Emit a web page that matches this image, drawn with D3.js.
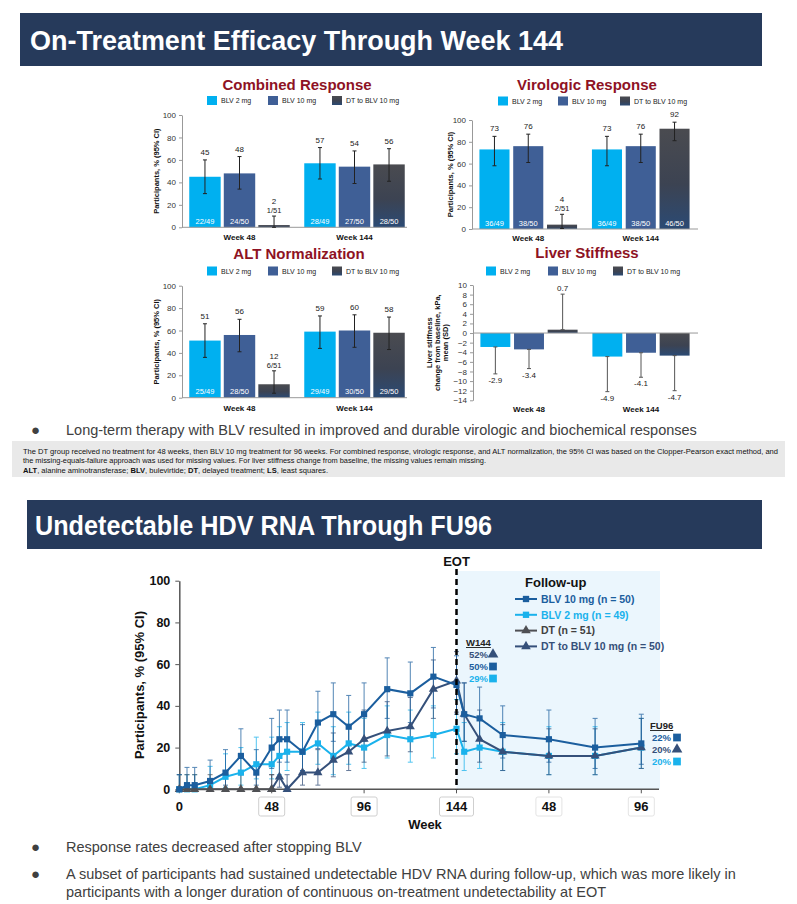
<!DOCTYPE html>
<meta charset="utf-8">
<style>
  body { margin: 0; background: #fff; }
  svg { display: block; font-family: "Liberation Sans", Arial, sans-serif; }
</style>
<svg width="797" height="904"></svg>
<script src="https://cdn.jsdelivr.net/npm/d3@7"></script>
<script>

// ---------- bar panels (order: Week 48 arms, then Week 144 arms)
var arms = ["BLV 2 mg", "BLV 10 mg", "DT to BLV 10 mg"]
var visits = ["Week 48", "Week 144"]

var combinedPct = [45, 48, 2, 57, 54, 56]
var combinedLo = [30, 34, 0, 43, 39, 41]
var combinedHi = [60, 63, 10, 71, 68, 70]
var combinedN = ["22/49", "24/50", "1/51", "28/49", "27/50", "28/50"]

var viroPct = [73, 76, 4, 73, 76, 92]
var viroLo = [58, 61, 0.5, 58, 61, 81]
var viroHi = [85, 87, 13.5, 85, 87, 98]
var viroN = ["36/49", "38/50", "2/51", "36/49", "38/50", "46/50"]

var altPct = [51, 56, 12, 59, 60, 58]
var altLo = [36, 41, 4, 44, 45, 43]
var altHi = [66, 70, 24, 73, 74, 72]
var altN = ["25/49", "28/50", "6/51", "29/49", "30/50", "29/50"]

var lsMean = [-2.9, -3.4, 0.7, -4.9, -4.1, -4.7]
var lsSD = [5.6, 4.0, 7.4, 7.3, 5.1, 7.3]

// ---------- undetectable HDV RNA (week 144+ = follow-up)
var weeks = [0, 4, 8, 16, 24, 32, 40, 48, 52, 56, 64, 72, 80, 88, 96, 108, 120, 132, 144, 148, 156, 168, 192, 216, 240]
var blv10 = [0, 2, 2, 4, 8, 16, 8, 20, 24, 24, 18, 32, 36, 30, 36, 48, 46, 54, 50, 36, 34, 26, 24, 20, 22]
var blv10Lo = [0, 0, 0, 0.5, 2, 7, 2, 10, 13, 13, 9, 19.5, 23, 18, 23, 34, 32, 39, 36, 23, 21, 15, 13, 10, 12]
var blv10Hi = [7, 10.5, 10.5, 14, 19, 29, 19, 34, 38, 38, 31, 47, 51, 45, 51, 63, 61, 68, 64, 51, 49, 40, 38, 34, 36]
var blv2 = [0, 0, 0, 2, 6, 8, 12, 12, 16, 18, 18, 22, 16, 22, 20, 26, 24, 26, 29, 18, 20, 18, 16, 16, 20]
var blv2Lo = [0, 0, 0, 0, 1, 2, 5, 5, 7, 9, 9, 12, 7, 12, 10, 15, 13, 15, 17, 9, 10, 9, 7, 7, 10]
var blv2Hi = [7, 7, 7, 11, 17, 20, 25, 25, 30, 32, 32, 37, 30, 37, 34, 40, 38, 40, 43, 32, 34, 32, 30, 30, 34]
var dtWeeks = [0, 4, 8, 16, 24, 32, 40, 48]
var dt = [0, 0, 0, 0, 0, 0, 0, 0]
var dtLo = [0, 0, 0, 0, 0, 0, 0, 0]
var dtHi = [7, 7, 7, 7, 7, 7, 7, 7]
var dtBlvWeeks = [48, 52, 56, 64, 72, 80, 88, 96, 108, 120, 132, 144, 148, 156, 168, 192, 216, 240]
var dtBlv = [0, 6, 0, 8, 8, 14, 18, 24, 28, 30, 48, 52, 36, 24, 18, 16, 16, 20]
var dtBlvLo = [0, 1, 0, 2, 2, 6, 9, 13, 16, 18, 34, 37, 23, 13, 9, 7, 7, 10]
var dtBlvHi = [7, 17, 7, 19, 19, 27, 31, 38, 42, 44, 62, 66, 51, 38, 31, 29, 29, 34]

var weekTicks = [0, 48, 96, 144, 192, 240]
var weekTickLabels = ["0", "48", "96", "144", "48", "96"]
var seriesNames = ["BLV 10 mg (n = 50)", "BLV 2 mg (n = 49)", "DT (n = 51)", "DT to BLV 10 mg (n = 50)"]

var svg = d3.select('svg')

var armColor = ["#00b0f0", "#3f5f96", "url(#dtGrad)"]
var red = "#8e1224"
var c10 = "#1b5e9e", c2 = "#1ab2ec", cDT = "#4f5054", cNavy = "#35507a"

var grad = svg.append('defs').append('linearGradient').attr('id', 'dtGrad')
    .attr('x1', 0).attr('y1', 0).attr('x2', 0).attr('y2', 1)
grad.append('stop').attr('offset', '0%').attr('stop-color', '#4a4b50')
grad.append('stop').attr('offset', '55%').attr('stop-color', '#3c4352')
grad.append('stop').attr('offset', '100%').attr('stop-color', '#2b4a74')

// title bars
function titleBar(x, y, w, h, text, tx, ty, len) {
    svg.append('rect').attr('x', x).attr('y', y).attr('width', w).attr('height', h).attr('fill', '#263a5b')
    svg.append('text').attr('x', tx).attr('y', ty).attr('fill', '#fff')
        .attr('font-size', 27).attr('font-weight', 'bold')
        .attr('textLength', len).attr('lengthAdjust', 'spacingAndGlyphs')
        .text(text)
}
titleBar(20, 13, 742, 53, "On-Treatment Efficacy Through Week 144", 30, 50, 533)
titleBar(27, 500, 735, 49, "Undetectable HDV RNA Through FU96", 35, 535, 457)

function barPanel(p) {
    var g = svg.append('g')
    g.append('text').attr('x', p.cx).attr('y', p.titleY).attr('text-anchor', 'middle')
        .attr('fill', red).attr('font-size', 15).attr('font-weight', 'bold').text(p.title)

    arms.forEach(function (a, i) {
        g.append('rect').attr('x', p.legendX[i]).attr('y', p.legendY - 4).attr('width', 10).attr('height', 9)
            .attr('fill', armColor[i])
        g.append('text').attr('x', p.legendX[i] + 14).attr('y', p.legendY + 3).attr('font-size', 7)
            .attr('fill', '#222').text(a)
    })

    var x0 = d3.scaleBand().domain(visits).range([p.left, p.right])
    var x1 = d3.scaleBand().domain(arms).range([0, x0.bandwidth()]).paddingInner(p.pi).paddingOuter(p.po)
    var y = d3.scaleLinear().domain(p.yDomain).range([p.bottom, p.top])

    var rows = p.values.map(function (v, i) {
        var lo, hi
        if (p.sd) {
            lo = v < 0 ? v - p.sd[i] : v
            hi = v < 0 ? v : v + p.sd[i]
        } else { lo = p.lo[i]; hi = p.hi[i] }
        return { visit: visits[Math.floor(i / 3)], arm: arms[i % 3], ai: i % 3, v: v, lo: lo, hi: hi, n: p.n ? p.n[i] : null }
    })
    function cx(d) { return x0(d.visit) + x1(d.arm) + x1.bandwidth() / 2 }

    // axis
    var ax = g.append('g').attr('transform', 'translate(' + p.left + ',0)')
        .call(d3.axisLeft(y).tickValues(p.ticks).tickSize(3).tickSizeOuter(0).tickPadding(3))
    ax.select('.domain').attr('stroke', '#999')
    ax.selectAll('.tick line').attr('stroke', '#999')
    ax.selectAll('.tick text').attr('font-size', 8).attr('fill', '#333').attr('font-family', '"Liberation Sans", Arial, sans-serif')

    g.selectAll(null).data(rows).enter().append('rect')
        .attr('x', function (d) { return x0(d.visit) + x1(d.arm) })
        .attr('width', x1.bandwidth())
        .attr('y', function (d) { return y(Math.max(0, d.v)) })
        .attr('height', function (d) { return Math.abs(y(d.v) - y(0)) })
        .attr('fill', function (d) { return armColor[d.ai] })

    g.append('line').attr('x1', p.left).attr('x2', p.axisEnd).attr('y1', y(0)).attr('y2', y(0))
        .attr('stroke', '#999')

    // error bars
    var eb = g.selectAll(null).data(rows).enter().append('g').attr('stroke', p.sd ? '#555' : '#222').attr('stroke-width', 1)
    eb.append('line').attr('x1', cx).attr('x2', cx).attr('y1', function (d) { return y(d.lo) }).attr('y2', function (d) { return y(d.hi) })
    eb.append('line').attr('x1', function (d) { return cx(d) - 2 }).attr('x2', function (d) { return cx(d) + 2 })
        .attr('y1', function (d) { return y(d.hi) }).attr('y2', function (d) { return y(d.hi) })
    eb.append('line').attr('x1', function (d) { return cx(d) - 2 }).attr('x2', function (d) { return cx(d) + 2 })
        .attr('y1', function (d) { return y(d.lo) }).attr('y2', function (d) { return y(d.lo) })

    // labels
    rows.forEach(function (d) {
        if (p.sd) {
            var ly0 = d.v < 0 ? y(d.lo) + 9 : y(d.hi) - 3
            g.append('text').attr('x', cx(d)).attr('y', ly0).attr('text-anchor', 'middle')
                .attr('font-size', 8).attr('fill', '#222').text(d.v.toFixed(1))
        } else if (d.v < 20) {
            g.append('text').attr('x', cx(d)).attr('y', y(d.hi) - 12).attr('text-anchor', 'middle')
                .attr('font-size', 8).attr('fill', '#222').text(d.v)
            g.append('text').attr('x', cx(d)).attr('y', y(d.hi) - 3).attr('text-anchor', 'middle')
                .attr('font-size', 7.5).attr('fill', '#222').text(d.n)
        } else {
            g.append('text').attr('x', cx(d)).attr('y', y(d.hi) - 5).attr('text-anchor', 'middle')
                .attr('font-size', 8).attr('fill', '#222').text(d.v)
            g.append('text').attr('x', cx(d)).attr('y', y(0) - 3.5).attr('text-anchor', 'middle')
                .attr('font-size', 7.5).attr('fill', '#fff').text(d.n)
        }
    })

    // category labels
    visits.forEach(function (v) {
        g.append('text').attr('x', x0(v) + x0.bandwidth() / 2).attr('y', p.catY).attr('text-anchor', 'middle')
            .attr('font-size', 8).attr('font-weight', 'bold').attr('fill', '#111').text(v)
    })

    // y label
    var cyMid = (p.top + p.bottom) / 2
    p.ylabel.forEach(function (t, i) {
        g.append('text').attr('transform', 'translate(' + (p.ylabX + i * 8) + ',' + cyMid + ') rotate(-90)')
            .attr('text-anchor', 'middle').attr('font-size', 7.5).attr('font-weight', 'bold').attr('fill', '#111').text(t)
    })
}

var pctTicks = [0, 20, 40, 60, 80, 100]
barPanel({ title: "Combined Response", cx: 297, titleY: 90, legendX: [207, 268, 332], legendY: 100,
    left: 182, right: 412, axisEnd: 407, pi: 0.09, po: 0.21, yDomain: [0, 100], top: 115, bottom: 227.3,
    ticks: pctTicks, values: combinedPct, lo: combinedLo, hi: combinedHi, n: combinedN, catY: 240,
    ylabel: ["Participants, % (95% CI)"], ylabX: 159 })
barPanel({ title: "Virologic Response", cx: 587, titleY: 90, legendX: [498, 558, 620], legendY: 100.5,
    left: 472, right: 697, axisEnd: 698, pi: 0.11, po: 0.22, yDomain: [0, 100], top: 120, bottom: 229,
    ticks: pctTicks, values: viroPct, lo: viroLo, hi: viroHi, n: viroN, catY: 241,
    ylabel: ["Participants, % (95% CI)"], ylabX: 453 })
barPanel({ title: "ALT Normalization", cx: 299, titleY: 259, legendX: [207, 268, 332], legendY: 270.5,
    left: 182, right: 412, axisEnd: 407, pi: 0.09, po: 0.21, yDomain: [0, 100], top: 285.7, bottom: 397.7,
    ticks: pctTicks, values: altPct, lo: altLo, hi: altHi, n: altN, catY: 411,
    ylabel: ["Participants, % (95% CI)"], ylabX: 159 })
barPanel({ title: "Liver Stiffness", cx: 587, titleY: 258, legendX: [486, 548, 613], legendY: 270.5,
    left: 473, right: 697, axisEnd: 698, pi: 0.11, po: 0.22, yDomain: [-14, 10], top: 285, bottom: 400.3,
    ticks: d3.range(-14, 11, 2), values: lsMean, sd: lsSD, catY: 412,
    ylabel: ["Liver stiffness", "change from baseline, kPa,", "mean (SD)"], ylabX: 432 })

// bullets
function bullet(y, lines) {
    svg.append('text').attr('x', 31).attr('y', y).attr('font-size', 15).attr('fill', '#404040').text('●')
    lines.forEach(function (t, i) {
        svg.append('text').attr('x', 66).attr('y', y + i * 18).attr('font-size', 14.5).attr('fill', '#404040').text(t)
    })
}
bullet(435, ["Long-term therapy with BLV resulted in improved and durable virologic and biochemical responses"])

// footnote
svg.append('rect').attr('x', 12).attr('y', 441).attr('width', 773).attr('height', 36).attr('fill', '#e9e9e9')
var fn = svg.append('g').attr('font-size', 7.5).attr('fill', '#111')
fn.append('text').attr('x', 23).attr('y', 453.5).attr('textLength', 755).attr('lengthAdjust', 'spacingAndGlyphs')
    .text("The DT group received no treatment for 48 weeks, then BLV 10 mg treatment for 96 weeks. For combined response, virologic response, and ALT normalization, the 95% CI was based on the Clopper-Pearson exact method, and")
fn.append('text').attr('x', 23).attr('y', 463).attr('textLength', 463).attr('lengthAdjust', 'spacingAndGlyphs')
    .text("the missing-equals-failure approach was used for missing values. For liver stiffness change from baseline, the missing values remain missing.")
var f3 = fn.append('text').attr('x', 23).attr('y', 472.5).attr('textLength', 305).attr('lengthAdjust', 'spacingAndGlyphs')
;[["ALT", 1], [", alanine aminotransferase; ", 0], ["BLV", 1], [", bulevirtide; ", 0], ["DT", 1], [", delayed treatment; ", 0], ["LS", 1], [", least squares.", 0]]
    .forEach(function (s) { f3.append('tspan').attr('font-weight', s[1] ? 'bold' : null).text(s[0]) })

// ---------- line chart
var lx = d3.scaleLinear().domain([0, 240]).range([179.3, 641.3])
var ly = d3.scaleLinear().domain([0, 100]).range([789.3, 580.7])
var lg = svg.append('g')

lg.append('rect').attr('x', lx(144)).attr('y', 571).attr('width', 660 - lx(144)).attr('height', ly(0) - 571)
    .attr('fill', '#ebf6fd')

var yAx = lg.append('g').attr('transform', 'translate(' + lx(0) + ',0)')
    .call(d3.axisLeft(ly).tickValues([0, 20, 40, 60, 80, 100]).tickSize(4).tickSizeOuter(0).tickPadding(5))
yAx.select('.domain').attr('stroke', '#555').attr('stroke-width', 1.5)
yAx.selectAll('.tick line').attr('stroke', '#555')
yAx.selectAll('.tick text').attr('font-size', 12.5).attr('font-weight', 'bold').attr('fill', '#111')
    .attr('font-family', '"Liberation Sans", Arial, sans-serif')

lg.append('line').attr('x1', lx(0)).attr('x2', 659).attr('y1', ly(0)).attr('y2', ly(0))
    .attr('stroke', '#555').attr('stroke-width', 1.5)
weekTicks.forEach(function (w, i) {
    lg.append('line').attr('x1', lx(w)).attr('x2', lx(w)).attr('y1', ly(0)).attr('y2', ly(0) + 4).attr('stroke', '#555')
    var t = weekTickLabels[i]
    if (w > 0) {
        var bw = t.length * 8 + 10
        lg.append('rect').attr('x', lx(w) - bw / 2).attr('y', 797).attr('width', bw).attr('height', 19).attr('rx', 2)
            .attr('fill', 'none').attr('stroke', w > 144 ? '#e4e4e4' : '#cfcfcf')
    }
    lg.append('text').attr('x', lx(w)).attr('y', 811).attr('text-anchor', 'middle').attr('font-size', 13)
        .attr('font-weight', 'bold').attr('fill', '#111').text(t)
})
lg.append('text').attr('x', 425).attr('y', 829).attr('text-anchor', 'middle').attr('font-size', 13)
    .attr('font-weight', 'bold').attr('fill', '#111').text('Week')
lg.append('text').attr('transform', 'translate(144,685) rotate(-90)').attr('text-anchor', 'middle')
    .attr('font-size', 13).attr('font-weight', 'bold').attr('fill', '#111').text('Participants, % (95% CI)')

function drawSeries(wk, val, lo, hi, color, shape) {
    var s = lg.append('g')
    var eb = s.selectAll(null).data(wk).enter().append('g').attr('stroke', color).attr('stroke-width', 1).attr('opacity', 0.75)
    eb.append('line').attr('x1', function (w) { return lx(w) }).attr('x2', function (w) { return lx(w) })
        .attr('y1', function (w, i) { return ly(lo[i]) }).attr('y2', function (w, i) { return ly(hi[i]) })
    eb.append('line').attr('x1', function (w) { return lx(w) - 2.5 }).attr('x2', function (w) { return lx(w) + 2.5 })
        .attr('y1', function (w, i) { return ly(hi[i]) }).attr('y2', function (w, i) { return ly(hi[i]) })
    eb.append('line').attr('x1', function (w) { return lx(w) - 2.5 }).attr('x2', function (w) { return lx(w) + 2.5 })
        .attr('y1', function (w, i) { return ly(lo[i]) }).attr('y2', function (w, i) { return ly(lo[i]) })
    return function () {
        var line = d3.line().x(function (d, i) { return lx(wk[i]) }).y(function (d) { return ly(d) })
        lg.append('path').datum(val).attr('d', line).attr('fill', 'none').attr('stroke', color).attr('stroke-width', 2)
        lg.selectAll(null).data(val).enter().append('path')
            .attr('d', d3.symbol().type(shape === 'tri' ? d3.symbolTriangle : d3.symbolSquare).size(shape === 'tri' ? 36 : 38))
            .attr('transform', function (d, i) { return 'translate(' + lx(wk[i]) + ',' + ly(d) + ')' })
            .attr('fill', color)
    }
}
var dBlv2 = drawSeries(weeks, blv2, blv2Lo, blv2Hi, c2, 'sq')
var dDtBlv = drawSeries(dtBlvWeeks, dtBlv, dtBlvLo, dtBlvHi, cNavy, 'tri')
var dDt = drawSeries(dtWeeks, dt, dtLo, dtHi, cDT, 'tri')
var dBlv10 = drawSeries(weeks, blv10, blv10Lo, blv10Hi, c10, 'sq')
dBlv2(); dDtBlv(); dDt(); dBlv10()

// EOT
lg.append('line').attr('x1', lx(144)).attr('x2', lx(144)).attr('y1', 569).attr('y2', ly(0))
    .attr('stroke', '#000').attr('stroke-width', 2.5).attr('stroke-dasharray', '6,4')
lg.append('text').attr('x', lx(144)).attr('y', 566).attr('text-anchor', 'middle').attr('font-size', 13)
    .attr('font-weight', 'bold').attr('fill', '#111').text('EOT')

// legend
lg.append('text').attr('x', 525).attr('y', 587).attr('font-size', 13).attr('font-weight', 'bold').attr('fill', '#111').text('Follow-up')
var legColors = [c10, c2, cDT, cNavy], legText = [c10, c2, '#404040', cNavy], legShape = ['sq', 'sq', 'tri', 'tri']
seriesNames.forEach(function (n, i) {
    var yy = 599 + i * 15.8
    lg.append('line').attr('x1', 515).attr('x2', 537).attr('y1', yy).attr('y2', yy).attr('stroke', legColors[i]).attr('stroke-width', 2)
    lg.append('path').attr('d', d3.symbol().type(legShape[i] === 'tri' ? d3.symbolTriangle : d3.symbolSquare).size(40))
        .attr('transform', 'translate(526,' + yy + ')').attr('fill', legColors[i])
    lg.append('text').attr('x', 541).attr('y', yy + 3.8).attr('font-size', 10.5).attr('font-weight', 'bold')
        .attr('fill', legText[i]).text(n)
})

// end-of-treatment and FU96 annotations
function annot(x, y, head, items) {
    lg.append('text').attr('x', x).attr('y', y).attr('font-size', 9.5).attr('font-weight', 'bold')
        .attr('fill', '#222').attr('text-decoration', 'underline').text(head)
    items.forEach(function (it, i) {
        var yy = y + 12 + i * 12
        lg.append('text').attr('x', x + it.dx).attr('y', yy).attr('font-size', 9.5).attr('font-weight', 'bold')
            .attr('fill', it.color).text(Math.round(it.v) + '%')
        lg.append('path').attr('d', d3.symbol().type(it.shape === 'tri' ? d3.symbolTriangle : d3.symbolSquare).size(it.shape === 'tri' ? 50 : 60))
            .attr('transform', 'translate(' + (x + it.mx) + ',' + (yy - 3.5) + ')').attr('fill', it.color)
    })
}
var i144 = weeks.indexOf(144), j144 = dtBlvWeeks.indexOf(144)
annot(466, 646, 'W144', [
    { v: dtBlv[j144], color: cNavy, shape: 'tri', dx: 3, mx: 27 },
    { v: blv10[i144], color: c10, shape: 'sq', dx: 3, mx: 27 },
    { v: blv2[i144], color: c2, shape: 'sq', dx: 3, mx: 27 }])
annot(650, 729, 'FU96', [
    { v: blv10[blv10.length - 1], color: c10, shape: 'sq', dx: 2, mx: 27 },
    { v: dtBlv[dtBlv.length - 1], color: cNavy, shape: 'tri', dx: 2, mx: 27 },
    { v: blv2[blv2.length - 1], color: c2, shape: 'sq', dx: 2, mx: 27 }])

bullet(852, ["Response rates decreased after stopping BLV"])
bullet(879, ["A subset of participants had sustained undetectable HDV RNA during follow-up, which was more likely in",
    "participants with a longer duration of continuous on-treatment undetectability at EOT"])

</script>
